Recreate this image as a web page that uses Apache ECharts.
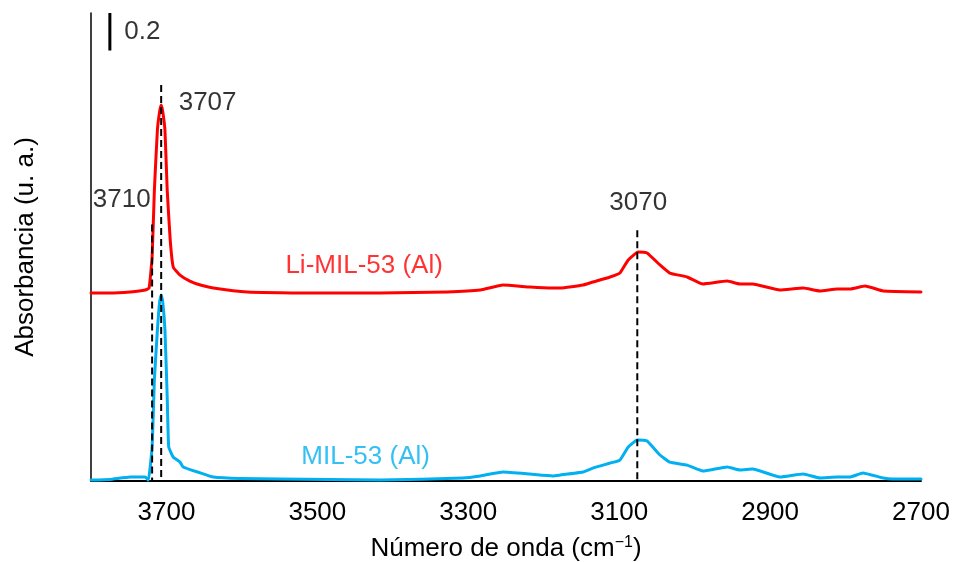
<!DOCTYPE html>
<html><head><meta charset="utf-8">
<script src="https://cdn.jsdelivr.net/npm/echarts@6/dist/echarts.min.js"></script>
<style>html,body{margin:0;padding:0;background:#fff}#c{width:955px;height:562px}</style>
</head><body><div id="c"></div>
<script>
// Wavenumber (cm-1) and absorbance (offset, a.u.)
const blueX = [3800,3775,3748,3728,3724,3719,3716,3712,3709,3707,3705,3702,3699,3697,3691,3682,3678,3655,3638,3602,3550,3417,3307,3284,3254,3218,3188,3178,3148,3135,3112,3099,3088,3076,3063,3046,3033,3010,2989,2957,2940,2923,2887,2856,2834,2811,2794,2777,2750,2737,2700];
const blueY = [0.005,0.008,0.021,0.021,0.005,0.182,0.540,0.807,0.960,0.994,0.960,0.807,0.449,0.182,0.128,0.101,0.075,0.043,0.021,0.013,0.011,0.005,0.016,0.027,0.048,0.037,0.027,0.032,0.048,0.069,0.096,0.112,0.182,0.219,0.214,0.139,0.101,0.085,0.053,0.075,0.059,0.064,0.021,0.037,0.016,0.021,0.021,0.043,0.016,0.011,0.011];
const redX = [3800,3775,3748,3728,3723,3719,3716,3712,3709,3707,3705,3702,3699,3695,3691,3682,3669,3655,3638,3593,3506,3417,3328,3284,3254,3218,3188,3178,3148,3135,3112,3099,3088,3075,3063,3046,3033,3010,2989,2957,2940,2923,2887,2856,2834,2811,2794,2774,2750,2700];
const redY = [1.004,1.004,1.010,1.020,1.031,1.197,1.554,1.875,1.975,2.009,1.975,1.875,1.554,1.287,1.143,1.100,1.068,1.047,1.031,1.010,1.004,1.004,1.010,1.020,1.047,1.036,1.031,1.031,1.047,1.063,1.090,1.111,1.181,1.223,1.218,1.154,1.111,1.090,1.052,1.068,1.052,1.052,1.020,1.031,1.015,1.026,1.026,1.042,1.015,1.010];
const xTickLabels = [3700,3500,3300,3100,2900,2700];
const peakX = [3707,3719,3076];
const peakTop = [2.115,1.37,1.34];
const peakText = ['3707','3710','3070'];
const seriesNames = ['Li-MIL-53 (Al)','MIL-53 (Al)'];
const seriesLabelX = [3438,3436];
const seriesLabelY = [1.15,0.128];
const scaleBarX = 3775;
const scaleBarY = [2.3,2.5];
const scaleBarText = '0.2';

const FONT = 'Liberation Sans, Arial, sans-serif';
const FS = 26;
const RED = '#ff0000', BLUE = '#00b0f0';

const chart = echarts.init(document.getElementById('c'), null, {renderer:'canvas'});
const zip = (xs, ys) => xs.map((x,i)=>[x,ys[i]]);

const peakLabelStyles = [
  {position:'right', distance:17, offset:[0,18]},
  {position:'left', distance:1, offset:[0,-25]},
  {position:'top', distance:14, offset:[1,0]}
];

const series = [];
series.push({type:'line', name:seriesNames[0], data:zip(redX,redY), smooth:0.12, showSymbol:false,
  lineStyle:{color:RED,width:3,cap:'round',join:'round'}, z:3});
series.push({type:'line', name:seriesNames[1], data:zip(blueX,blueY), smooth:0.12, showSymbol:false,
  lineStyle:{color:BLUE,width:3,cap:'round',join:'round'}, z:2});
peakX.forEach((x,i)=>{
  series.push({type:'line', data:[[x,peakTop[i]],[x,0]], showSymbol:false, symbol:'none',
    lineStyle:{color:'#000',width:2,type:[7,4]}, z:4, silent:true});
});
series.push({type:'scatter', symbolSize:1, itemStyle:{color:'rgba(0,0,0,0)'}, z:5, silent:true,
  data: peakX.map((x,i)=>({value:[x,peakTop[i]], label:Object.assign({show:true, formatter:peakText[i],
    color:'#000', fontSize:FS, fontFamily:FONT}, peakLabelStyles[i])}))});
// scale bar
series.push({type:'line', data:[[scaleBarX,scaleBarY[0]],[scaleBarX,scaleBarY[1]]], showSymbol:false, symbol:'none',
  lineStyle:{color:'#000',width:3}, z:4, silent:true});
series.push({type:'scatter', symbolSize:1, itemStyle:{color:'rgba(0,0,0,0)'}, silent:true,
  data:[{value:[scaleBarX,(scaleBarY[0]+scaleBarY[1])/2], label:{show:true, position:'right', distance:14,
    formatter:scaleBarText, color:'#000', fontSize:FS, fontFamily:FONT}}]});
// series name labels
series.push({type:'scatter', symbolSize:1, itemStyle:{color:'rgba(0,0,0,0)'}, silent:true,
  data: seriesNames.map((n,i)=>({value:[seriesLabelX[i],seriesLabelY[i]], label:{show:true, position:'inside',
    formatter:n, color:i===0?RED:BLUE, fontSize:FS, fontFamily:FONT}}))});

chart.setOption({
  animation:false,
  backgroundColor:'#fff',
  grid:{left:91,right:34,top:13,bottom:81,containLabel:false,outerBoundsMode:'none'},
  xAxis:{type:'value', min:2700, max:3800, interval:200, inverse:true,
    axisLine:{show:true, onZero:false, lineStyle:{color:'#000',width:2}},
    axisTick:{show:false}, splitLine:{show:false},
    axisLabel:{margin:19, color:'#000', fontSize:FS, fontFamily:FONT, showMaxLabel:false,
      formatter:v=> xTickLabels.indexOf(v)>=0 ? String(v) : ''},
    name:'Número de onda (cm{sup|−1})', nameLocation:'middle', nameGap:54,
    nameTextStyle:{color:'#000', fontSize:FS, fontFamily:FONT,
      rich:{sup:{fontSize:16, fontFamily:FONT, color:'#000', verticalAlign:'top', padding:[0,0,12,0]}}}
  },
  yAxis:{type:'value', min:0, max:2.5,
    axisLine:{show:true, lineStyle:{color:'#000',width:1.5}},
    axisTick:{show:false}, splitLine:{show:false}, axisLabel:{show:false},
    name:'Absorbancia (u. a.)', nameLocation:'middle', nameGap:52, nameRotate:90,
    nameTextStyle:{color:'#000', fontSize:FS, fontFamily:FONT}
  },
  series:series
});
</script></body></html>
